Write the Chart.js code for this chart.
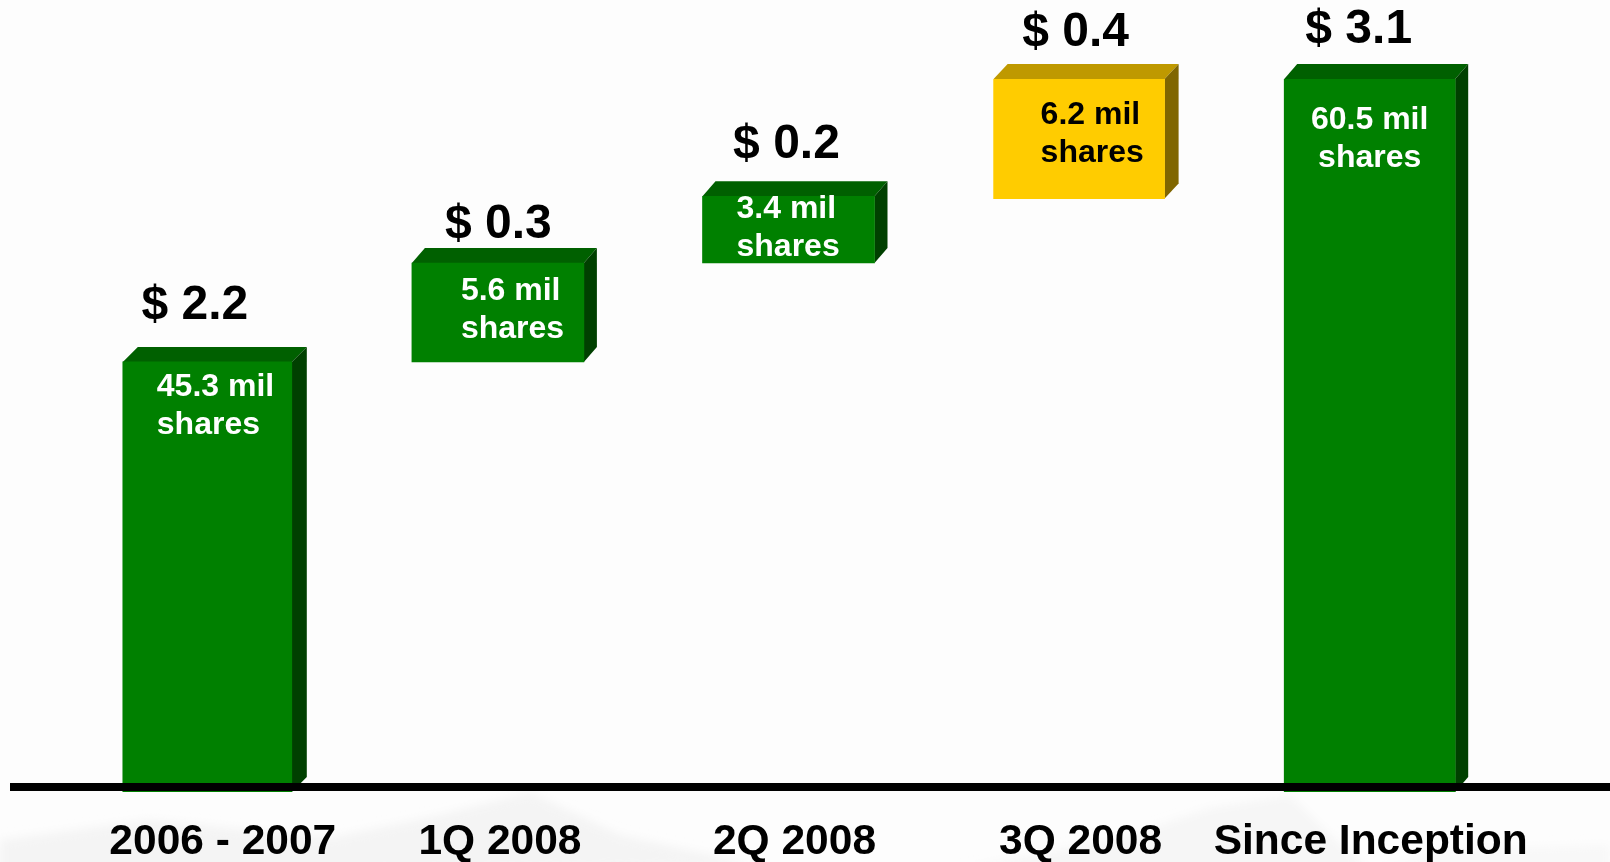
<!DOCTYPE html>
<html>
<head>
<meta charset="utf-8">
<title>Shares repurchased</title>
<script src="https://cdn.jsdelivr.net/npm/chart.js@4.4.4/dist/chart.umd.min.js"></script>
<style>
  html, body { margin: 0; padding: 0; background: #fdfdfd; }
  #wrap { position: relative; width: 1610px; height: 862px; overflow: hidden; background: #fdfdfd; }
  #wrap svg, #wrap canvas { position: absolute; left: 0; top: 0; }
</style>
</head>
<body>
<div id="wrap">
  <!-- faint mountain texture of the slide background -->
  <svg width="1610" height="862">
    <defs><filter id="soft"><feGaussianBlur stdDeviation="5"/></filter></defs>
    <g filter="url(#soft)">
      <path d="M0 840 L150 820 L330 838 L440 815 L530 792 L620 835 L760 866 L0 880 Z" fill="#f4f4f4"/>
      <path d="M960 870 L1130 835 L1210 808 L1290 795 L1325 830 L1370 870 Z" fill="#f6f6f6"/>
      <path d="M1370 870 L1450 850 L1610 845 L1610 870 Z" fill="#f8f8f8"/>
    </g>
  </svg>
  <canvas id="chart" width="1610" height="862"></canvas>
</div>
<script>
// ─── Data (bar ranges as drawn, on a $ scale where Since Inception = 3.1) ────
const CATEGORIES = ['2006 - 2007', '1Q 2008', '2Q 2008', '3Q 2008', 'Since Inception'];
const BAR_LOW  = [0, 1.87, 2.30, 2.58, 0];
const BAR_HIGH = [1.87, 2.30, 2.59, 3.10, 3.10];
const DOLLAR_LABELS = ['$ 2.2', '$ 0.3', '$ 0.2', '$ 0.4', '$ 3.1'];
const SHARE_LABELS = ['45.3 mil', '5.6 mil', '3.4 mil', '6.2 mil', '60.5 mil'];
const SHARE_UNIT = 'shares';

// ─── Look ────────────────────────────────────────────────────────────────────
const FRONT = ['#008000', '#008000', '#008000', '#ffcc00', '#008000'];
const TOP_FACE = ['#006000', '#006000', '#006000', '#bf9900', '#006000'];
const SIDE_FACE = ['#004000', '#004000', '#004000', '#806600', '#004000'];
const SHARE_COLOR = ['#ffffff', '#ffffff', '#ffffff', '#000000', '#ffffff'];
const FONT = "'Liberation Sans', Arial, sans-serif";
const BAR_WIDTH = [169, 172, 172, 171, 171];
const DEPTH_X = [15, 13, 13, 14, 13];
const DEPTH_Y = 15;

// label offsets relative to each bar (px)
const DOLLAR_DX = [-12.5, 0.5, -2, -3.5, -11];
const DOLLAR_GAP = [43, 25, 38, 33, 36];
const SHARE_INSET = [34, 49, 34, 47, null];  // null = centred
const SHARE_DY = [34, 37, 22, 45, 50];
const CATEGORY_DX = [15.5, 2, 6, 1.5, 1];

function poly(ctx, pts, color) {
    ctx.fillStyle = color;
    ctx.beginPath();
    pts.forEach((p, i) => i ? ctx.lineTo(p[0], p[1]) : ctx.moveTo(p[0], p[1]));
    ctx.closePath();
    ctx.fill();
}

// the boxes are not all the same width in the slide
const barWidths = {
    id: 'barWidths',
    afterDatasetsUpdate(chart) {
        chart.getDatasetMeta(0).data.forEach((bar, i) => { bar.width = BAR_WIDTH[i]; });
    }
};

// top and side faces of the boxes, taken from the bar elements
const boxFaces = {
    id: 'boxFaces',
    beforeDatasetsDraw(chart) {
        const { ctx } = chart;
        chart.getDatasetMeta(0).data.forEach((bar, i) => {
            const l = bar.x - bar.width / 2, r = bar.x + bar.width / 2;
            const t = bar.y, b = bar.base, dx = DEPTH_X[i];
            poly(ctx, [[l, t], [l + dx, t - DEPTH_Y], [r + dx, t - DEPTH_Y], [r, t]], TOP_FACE[i]);
            poly(ctx, [[r, t], [r + dx, t - DEPTH_Y], [r + dx, b - DEPTH_Y], [r, b]], SIDE_FACE[i]);
        });
    }
};

// baseline rule and every text label
const annotations = {
    id: 'annotations',
    afterDatasetsDraw(chart) {
        const { ctx, scales: { x, y } } = chart;
        const base = y.getPixelForValue(0);

        ctx.save();
        ctx.fillStyle = '#000000';
        ctx.fillRect(10, base - 9, chart.width - 10, 8);

        ctx.textBaseline = 'alphabetic';
        chart.getDatasetMeta(0).data.forEach((bar, i) => {
            const top = bar.y;

            ctx.fillStyle = '#000000';
            ctx.textAlign = 'center';
            ctx.font = `bold 48px ${FONT}`;
            ctx.fillText(DOLLAR_LABELS[i], bar.x + DOLLAR_DX[i], top - DOLLAR_GAP[i]);

            ctx.font = `bold 42.5px ${FONT}`;
            ctx.fillText(CATEGORIES[i], x.getPixelForTick(i) + CATEGORY_DX[i], base + 62);

            ctx.fillStyle = SHARE_COLOR[i];
            ctx.font = `bold 32px ${FONT}`;
            const inset = SHARE_INSET[i];
            ctx.textAlign = inset === null ? 'center' : 'left';
            const tx = inset === null ? bar.x : bar.x - bar.width / 2 + inset;
            ctx.fillText(SHARE_LABELS[i], tx, top + SHARE_DY[i]);
            ctx.fillText(SHARE_UNIT, tx, top + SHARE_DY[i] + 38);
        });
        ctx.restore();
    }
};

new Chart(document.getElementById('chart'), {
    type: 'bar',
    data: {
        labels: CATEGORIES,
        datasets: [{
            data: BAR_LOW.map((low, i) => [low, BAR_HIGH[i]]),
            backgroundColor: FRONT,
            borderWidth: 0,
            borderSkipped: false,
            barThickness: 171,
        }]
    },
    options: {
        responsive: false,
        animation: false,
        layout: { padding: { left: 62, right: 95, top: 79, bottom: 62 } },
        plugins: { legend: { display: false }, tooltip: { enabled: false } },
        scales: {
            x: { grid: { display: false }, border: { display: false }, ticks: { display: false } },
            y: { display: false, min: 0, max: 3.1 }
        }
    },
    plugins: [barWidths, boxFaces, annotations]
});
</script>
</body>
</html>
